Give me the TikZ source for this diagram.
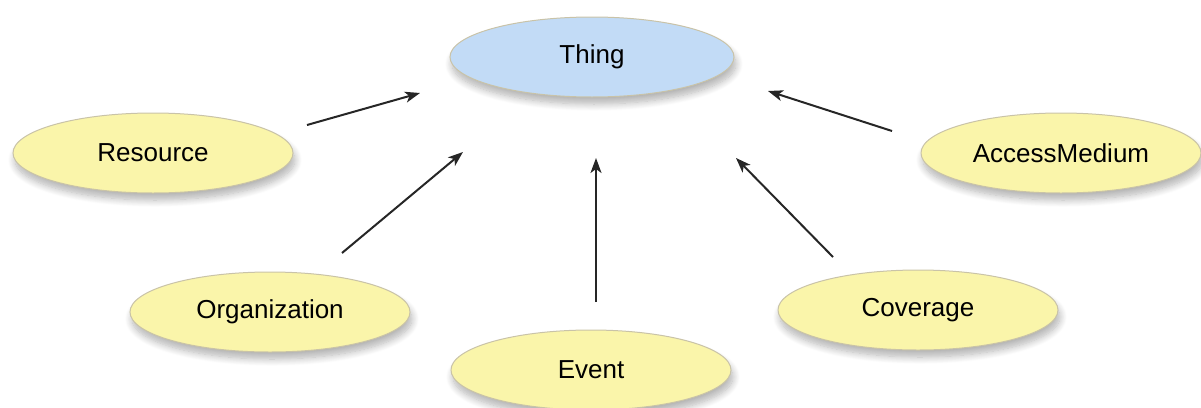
\documentclass[tikz,border=0pt]{standalone}
\usepackage{fontspec}
\setmainfont{Liberation Sans}
\usetikzlibrary{arrows.meta,shapes.geometric,shadows.blur}
\definecolor{thingblue}{HTML}{C2DBF6}
\definecolor{classyellow}{HTML}{FAF5AA}
\definecolor{rimgrey}{HTML}{C9C3A8}

\begin{document}
\begin{tikzpicture}[x=1pt,y=-1pt,
	cls/.style={ellipse, draw=rimgrey, line width=1pt, fill=classyellow,
		minimum width=280pt, minimum height=80pt, inner sep=0pt,
		font=\fontsize{26}{30}\selectfont,
		blur shadow={shadow xshift=2pt, shadow yshift=-7pt, shadow blur radius=7pt, shadow opacity=30, shadow blur steps=10}},
	isa/.style={-{Stealth[length=15pt,width=11pt,inset=4pt]}, line width=2pt, black!85}]
			\useasboundingbox (0,0) rectangle (1201,407);
			\node[cls, fill=thingblue, minimum width=284pt] (thing) at (592,57) {Thing};
			\node[cls] (resource) at (153,153) {Resource};
			\node[cls] (organization) at (270,312) {Organization};
			\node[cls] (event) at (591,370) {Event};
			\node[cls] (coverage) at (918,310) {Coverage};
			\node[cls] (accessmedium) at (1061,153) {AccessMedium};
			% ends of the is-a arrows
			\coordinate (resource-t) at (307,125);
			\coordinate (resource-h) at (420,93);
			\coordinate (organization-t) at (342,253);
			\coordinate (organization-h) at (463,152);
			\coordinate (event-t) at (596,302);
			\coordinate (event-h) at (596,158);
			\coordinate (coverage-t) at (833,257);
			\coordinate (coverage-h) at (736,158);
			\coordinate (accessmedium-t) at (892,131);
			\coordinate (accessmedium-h) at (768,91);
			\foreach \c in {resource,organization,event,coverage,accessmedium}
				\draw[isa] (\c-t) -- (\c-h);
		\end{tikzpicture}
\end{document}
